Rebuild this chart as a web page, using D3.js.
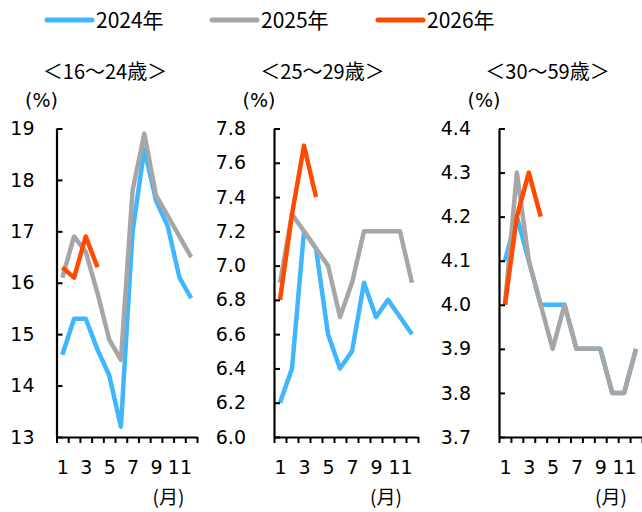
<!DOCTYPE html>
<html>
<head>
<meta charset="utf-8">
<script src="https://cdn.jsdelivr.net/npm/d3@7"></script>
<style>
  body { margin: 0; background: #fff; }
  svg text { fill: #000; }
</style>
</head>
<body>
<svg id="chart" width="642" height="512"></svg>
<script>
// Months on the x axis and the ones that get a label
const months = [1, 2, 3, 4, 5, 6, 7, 8, 9, 10, 11, 12];
const monthLabels = [1, 3, 5, 7, 9, 11];

// Legend
const seriesNames = ["2024年", "2025年", "2026年"];
const seriesColors = ["#3fb6fd", "#a6a6a6", "#ff4b00"];

// Panel titles
const panelTitles = ["＜16～24歳＞", "＜25～29歳＞", "＜30～59歳＞"];

// Ages 16-24 (%)
const youth2024 = [14.6, 15.3, 15.3, 14.7, 14.2, 13.2, 17.0, 18.6, 17.6, 17.1, 16.1, 15.7];
const youth2025 = [16.1, 16.9, 16.6, 15.8, 14.9, 14.5, 17.8, 18.9, 17.7, 17.3, 16.9, 16.5];
const youth2026 = [16.3, 16.1, 16.9, 16.3];
const youthTicks = [13, 14, 15, 16, 17, 18, 19];

// Ages 25-29 (%)
const young2024 = [6.2, 6.4, 7.2, 7.1, 6.6, 6.4, 6.5, 6.9, 6.7, 6.8, 6.7, 6.6];
const young2025 = [6.9, 7.3, 7.2, 7.1, 7.0, 6.7, 6.9, 7.2, 7.2, 7.2, 7.2, 6.9];
const young2026 = [6.8, 7.3, 7.7, 7.4];
const youngTicks = [6.0, 6.2, 6.4, 6.6, 6.8, 7.0, 7.2, 7.4, 7.6, 7.8];

// Ages 30-59 (%)
const core2024 = [4.1, 4.2, 4.1, 4.0, 4.0, 4.0, 3.9, 3.9, 3.9, 3.8, 3.8, 3.9];
const core2025 = [4.0, 4.3, 4.1, 4.0, 3.9, 4.0, 3.9, 3.9, 3.9, 3.8, 3.8, 3.9];
const core2026 = [4.0, 4.2, 4.3, 4.2];
const coreTicks = [3.7, 3.8, 3.9, 4.0, 4.1, 4.2, 4.3, 4.4];

const panels = [
  { title: panelTitles[0], series: [youth2024, youth2025, youth2026], ticks: youthTicks, fmt: d3.format("d"),
    left: 56.5, right: 197, pad: 22 },
  { title: panelTitles[1], series: [young2024, young2025, young2026], ticks: youngTicks, fmt: d3.format(".1f"),
    left: 274, right: 418, pad: 28 },
  { title: panelTitles[2], series: [core2024, core2025, core2026], ticks: coreTicks, fmt: d3.format(".1f"),
    left: 499, right: 642, pad: 28 }
];

const svg = d3.select("#chart");
const plotTop = 128.5, plotBottom = 437;
const numFont = "DejaVu Sans, Verdana, sans-serif";
const jpFont = "'Noto Sans CJK JP', 'Noto Sans', sans-serif";

// Legend
const legendX = [47, 212, 378];
seriesNames.forEach((name, i) => {
  const g = svg.append("g").attr("transform", `translate(${legendX[i]},20)`);
  g.append("line").attr("x1", 0).attr("x2", 45).attr("y1", 0).attr("y2", 0)
    .attr("stroke", seriesColors[i]).attr("stroke-width", 5).attr("stroke-linecap", "round");
  g.append("text").attr("x", 49).attr("y", 8)
    .attr("font-family", jpFont).attr("font-size", 21).text(name);
});

panels.forEach(p => {
  const x = d3.scaleLinear().domain([0.5, 12.5]).range([p.left, p.right]);
  const y = d3.scaleLinear().domain([p.ticks[0], p.ticks[p.ticks.length - 1]]).range([plotBottom, plotTop]);
  const g = svg.append("g");

  // Title and unit labels
  g.append("text").attr("x", p.left + 48.5).attr("y", 79).attr("text-anchor", "middle")
    .attr("font-family", jpFont).attr("font-size", 20).text(p.title);
  g.append("text").attr("x", p.left - 15).attr("y", 107).attr("text-anchor", "middle")
    .attr("font-family", numFont).attr("font-size", 19).text("(%)");
  g.append("text").attr("x", p.left + 112).attr("y", 504).attr("text-anchor", "middle")
    .attr("font-family", jpFont).attr("font-size", 19).text("(月)");

  // Series lines
  const line = d3.line().x((d, i) => x(months[i])).y(d => y(d));
  p.series.forEach((vals, i) => {
    g.append("path").datum(vals).attr("d", line)
      .attr("fill", "none").attr("stroke", seriesColors[i])
      .attr("stroke-width", 4.5).attr("stroke-linejoin", "round");
  });

  // Y axis: ticks pointing inward
  const yAxis = d3.axisLeft(y).tickValues(p.ticks).tickFormat(p.fmt)
    .tickSizeInner(-6).tickSizeOuter(0).tickPadding(p.pad);
  const ya = g.append("g").attr("transform", `translate(${p.left},0)`).call(yAxis);
  ya.select(".domain").attr("stroke", "#000").attr("stroke-width", 2.2);
  ya.selectAll(".tick line").attr("stroke", "#000").attr("stroke-width", 2);
  ya.selectAll(".tick text").attr("font-family", numFont).attr("font-size", 19).attr("fill", "#000");

  // X axis: tick marks on month boundaries
  const bounds = d3.range(0.5, 12.51, 1);
  const xAxis = d3.axisBottom(x).tickValues(bounds).tickFormat("").tickSizeInner(6).tickSizeOuter(0);
  const xa = g.append("g").attr("transform", `translate(0,${plotBottom})`).call(xAxis);
  xa.select(".domain").attr("stroke", "#000").attr("stroke-width", 2.2);
  xa.selectAll(".tick line").attr("stroke", "#000").attr("stroke-width", 2);

  // Month labels
  const xl = d3.axisBottom(x).tickValues(monthLabels).tickFormat(d3.format("d")).tickSize(0).tickPadding(24);
  const xla = g.append("g").attr("transform", `translate(0,${plotBottom})`).call(xl);
  xla.select(".domain").remove();
  xla.selectAll(".tick text").attr("font-family", numFont).attr("font-size", 19).attr("fill", "#000");
});
</script>
</body>
</html>
